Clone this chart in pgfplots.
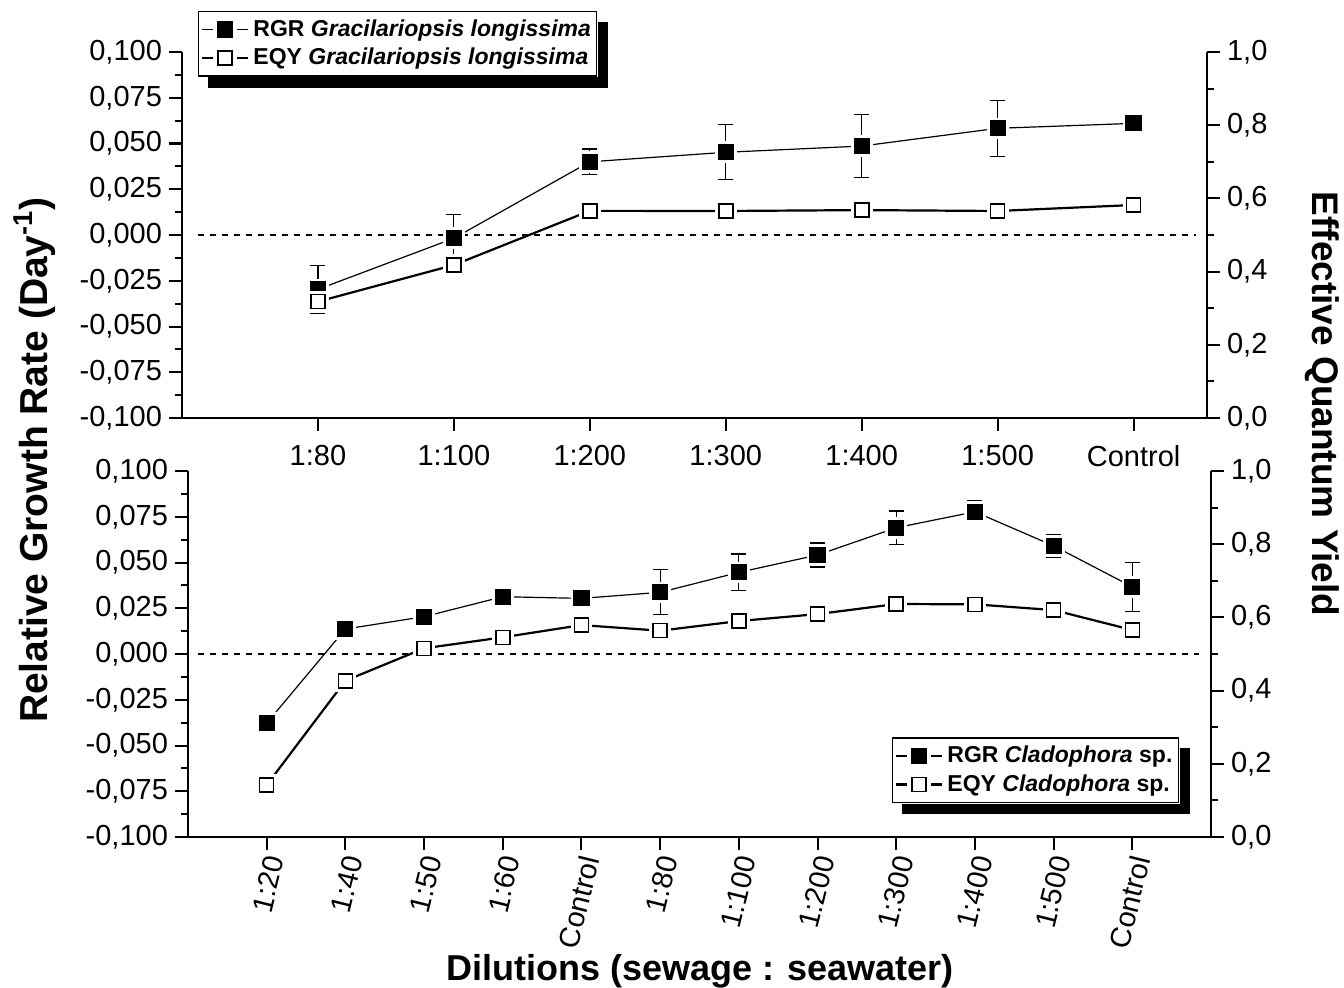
\documentclass[border=0pt]{standalone}
\usepackage{fontspec}
\setmainfont{Liberation Sans}
\usepackage{pgfplots}
\pgfplotsset{compat=1.18}

\pgfplotsset{
  panel/.style={
    scale only axis, clip=false,
    tick align=outside,
    major tick length=6.5pt, minor tick length=3.5pt,
    tick style={line width=1pt, black},
    axis line style={-, line width=1.3pt},
    ticklabel style={font=\fontsize{14.5}{17}\selectfont},
  },
  leftax/.style={
    panel,
    ymin=-0.1, ymax=0.1,
    axis x line*=bottom, axis y line*=left,
    xtick pos=left, ytick pos=left,
    ytick={-0.1,-0.075,-0.05,-0.025,0,0.025,0.05,0.075,0.1},
    yticklabels={{-0,100},{-0,075},{-0,050},{-0,025},{0,000},{0,025},{0,050},{0,075},{0,100}},
    minor y tick num=1,
  },
  rightax/.style={
    panel,
    ymin=0, ymax=1,
    axis x line=none, axis y line*=right,
    ytick pos=right, yticklabel pos=right,
    ytick={0,0.2,0.4,0.6,0.8,1},
    yticklabels={{0,0},{0,2},{0,4},{0,6},{0,8},{1,0}},
    minor y tick num=1,
  },
  rgr/.style={black, line width=0.6pt, mark=square*, mark size=3.75pt,
    mark options={solid, fill=black, line width=0.6pt}},
  eqy/.style={black, line width=1.1pt, mark=square*, mark size=3.5pt,
    mark options={solid, fill=white, line width=0.8pt}},
  halo/.style={forget plot, only marks, mark=square*, mark size=5.2pt,
    mark options={draw=white, fill=white}},
  ebar/.style={
    /pgfplots/error bars/y dir=both,
    /pgfplots/error bars/y explicit,
    /pgfplots/error bars/error bar style={line width=0.6pt, black, solid},
    /pgfplots/error bars/error mark options={rotate=90, mark size=3.75pt, line width=0.6pt, black, draw opacity=1}},
  legstyle/.style={
    legend style={draw=black, line width=0.6pt, fill=white,
      font=\fontsize{11.5}{13.5}\selectfont\bfseries,
      inner xsep=1pt, inner ysep=2pt, row sep=0.5pt,
      cells={anchor=west}},
    legend cell align=left,
    legend image code/.code={
      \draw[##1, mark=none] (0cm,0cm) -- (0.82cm,0cm);
      \fill[white] (0.41cm,0cm) +(-5.5pt,-5.5pt) rectangle +(5.5pt,5.5pt);
      \draw[##1, mark repeat=2, mark phase=2] plot coordinates {(0.41cm,0cm) (0.41cm,0cm) (0.41cm,0cm)};},
  },
}

\begin{document}
\begin{tikzpicture}
\useasboundingbox (0,0) rectangle (672pt,493.5pt);

% ---------------- TOP PANEL: Gracilariopsis longissima ----------------
\begin{axis}[leftax, at={(91pt,284.5pt)}, anchor=south west,
  width=512.5pt, height=183pt, xmin=0, xmax=7.54,
  xtick={1,2,3,4,5,6,7},
  xticklabels={1:80,1:100,1:200,1:300,1:400,1:500,Control},
  xticklabel style={yshift=-3.5pt}]
  \addplot[black, dashed, line width=0.6pt, forget plot] coordinates {(0.12,0) (7.46,0)};
  \addplot[rgr, mark=none, forget plot] coordinates {
    (1,-0.0297) (2,-0.0018) (3,0.0400) (4,0.0452) (5,0.0486) (6,0.0583) (7,0.0610)};
  \addplot[halo] coordinates {
    (1,-0.0297) (2,-0.0018) (3,0.0400) (4,0.0452) (5,0.0486) (6,0.0583) (7,0.0610)};
  \addplot[rgr, only marks, forget plot, ebar] coordinates {
    (1,-0.0297) +- (0,0.0130)
    (2,-0.0018) +- (0,0.0130)
    (3,0.0400) +- (0,0.0070)
    (4,0.0452) +- (0,0.0150)
    (5,0.0486) +- (0,0.0172)
    (6,0.0583) +- (0,0.0154)
    (7,0.0610) +- (0,0.0000)};
\end{axis}
\begin{axis}[rightax, legstyle, at={(91pt,284.5pt)}, anchor=south west,
  width=512.5pt, height=183pt, xmin=0, xmax=7.54,
  legend style={name=legA, at={(axis description cs:0.0156,1.112)}, anchor=north west}]
  \addlegendimage{rgr}
  \addlegendentry{RGR \textit{Gracilariopsis longissima}}
  \addplot[eqy, mark=none, forget plot] coordinates {
    (1,0.318) (2,0.418) (3,0.566) (4,0.5656) (5,0.568) (6,0.5656) (7,0.582)};
  \addplot[halo] coordinates {
    (1,0.318) (2,0.418) (3,0.566) (4,0.5656) (5,0.568) (6,0.5656) (7,0.582)};
  \addplot[eqy, only marks, forget plot] coordinates {
    (1,0.318) (2,0.418) (3,0.566) (4,0.5656) (5,0.568) (6,0.5656) (7,0.582)};
  \addplot[black, line width=0.6pt, only marks, mark=*,
    mark options={draw opacity=0, fill opacity=0}, forget plot, ebar] coordinates {
    (1,0.318) +- (0,0.025)
    (2,0.418) +- (0,0.023)
    (3,0.566) +- (0,0.018)
    (4,0.5656) +- (0,0.018)
    (5,0.568) +- (0,0.018)
    (6,0.5656) +- (0,0.018)
    (7,0.582) +- (0,0.019)};
  \addlegendimage{eqy}
  \addlegendentry{EQY \textit{Gracilariopsis longissima}}
\end{axis}

% ---------------- BOTTOM PANEL: Cladophora sp. ----------------
\begin{axis}[leftax, at={(94pt,75pt)}, anchor=south west,
  width=511.5pt, height=183pt, xmin=0, xmax=13,
  xtick={1,2,3,4,5,6,7,8,9,10,11,12},
  xticklabels={1:20,1:40,1:50,1:60,Control,1:80,1:100,1:200,1:300,1:400,1:500,Control},
  xticklabel style={xshift=5pt, rotate=76, anchor=east}]
  \addplot[black, dashed, line width=0.6pt, forget plot] coordinates {(0.13,0) (12.85,0)};
  \addplot[rgr, mark=none, forget plot] coordinates {
    (1,-0.0378) (2,0.01365) (3,0.0204) (4,0.0313) (5,0.0304) (6,0.0337)
    (7,0.0446) (8,0.0541) (9,0.0690) (10,0.0777) (11,0.0591) (12,0.0367)};
  \addplot[halo] coordinates {
    (1,-0.0378) (2,0.01365) (3,0.0204) (4,0.0313) (5,0.0304) (6,0.0337)
    (7,0.0446) (8,0.0541) (9,0.0690) (10,0.0777) (11,0.0591) (12,0.0367)};
  \addplot[rgr, only marks, forget plot, ebar] coordinates {
    (1,-0.0378) +- (0,0)
    (2,0.01365) +- (0,0)
    (3,0.0204) +- (0,0)
    (4,0.0313) +- (0,0)
    (5,0.0304) +- (0,0)
    (6,0.0337) +- (0,0.0123)
    (7,0.0446) +- (0,0.0100)
    (8,0.0541) +- (0,0.0066)
    (9,0.0690) +- (0,0.0091)
    (10,0.0777) +- (0,0.0060)
    (11,0.0591) +- (0,0.0064)
    (12,0.0367) +- (0,0.0135)};
\end{axis}
\begin{axis}[rightax, legstyle, at={(94pt,75pt)}, anchor=south west,
  width=511.5pt, height=183pt, xmin=0, xmax=13,
  legend style={name=legB, at={(axis description cs:0.9687,0.0929)}, anchor=south east}]
  \addlegendimage{rgr}
  \addlegendentry{RGR \textit{Cladophora} sp.}
  \addplot[eqy, mark=none, forget plot] coordinates {
    (1,0.142) (2,0.427) (3,0.5155) (4,0.5456) (5,0.579) (6,0.5637)
    (7,0.590) (8,0.609) (9,0.6366) (10,0.6357) (11,0.620) (12,0.5656)};
  \addplot[halo] coordinates {
    (1,0.142) (2,0.427) (3,0.5155) (4,0.5456) (5,0.579) (6,0.5637)
    (7,0.590) (8,0.609) (9,0.6366) (10,0.6357) (11,0.620) (12,0.5656)};
  \addplot[eqy, only marks, forget plot] coordinates {
    (1,0.142) (2,0.427) (3,0.5155) (4,0.5456) (5,0.579) (6,0.5637)
    (7,0.590) (8,0.609) (9,0.6366) (10,0.6357) (11,0.620) (12,0.5656)};
  \addlegendimage{eqy}
  \addlegendentry{EQY \textit{Cladophora} sp.}
\end{axis}

% ---------------- Legend shadows (visible L-shaped part) ----------------
\foreach \L in {legA,legB}{
  \fill[black] ([xshift=5pt,yshift=-5.5pt]\L.south west) rectangle ([xshift=5.3pt,yshift=-0.3pt]\L.south east);
  \fill[black] ([xshift=0.3pt,yshift=-5.5pt]\L.south east) rectangle ([xshift=5.3pt,yshift=-5.5pt]\L.north east);
}

% ---------------- Shared axis titles ----------------
\node[rotate=90, font=\fontsize{19.5}{23}\selectfont\bfseries] at (17.5pt,263.5pt)
  {Relative Growth Rate (Day\textsuperscript{-1})};
\node[rotate=-90, font=\fontsize{18.5}{22}\selectfont\bfseries] at (661pt,291.5pt)
  {Effective Quantum Yield};
\node[font=\fontsize{18}{22}\selectfont\bfseries] at (350pt,8pt)
  {Dilutions (sewage : seawater)};
\end{tikzpicture}
\end{document}
